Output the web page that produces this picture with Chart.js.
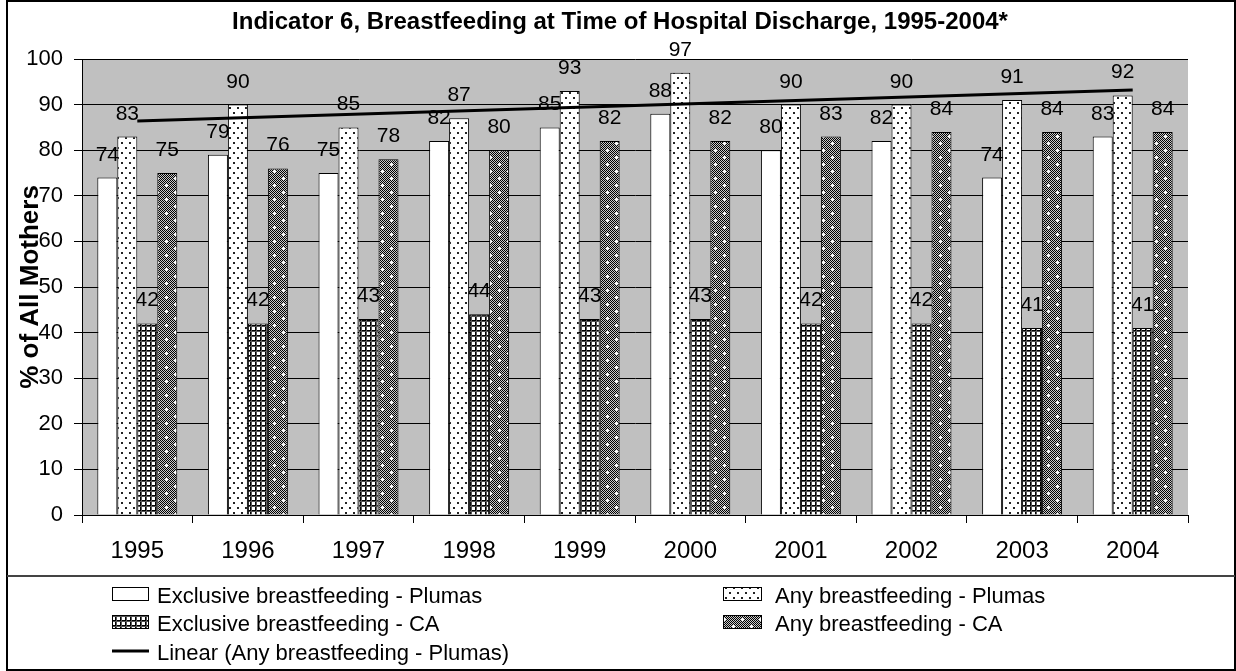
<!DOCTYPE html>
<html>
<head>
<meta charset="utf-8">
<script src="https://cdn.jsdelivr.net/npm/chart.js@4.4.0/dist/chart.umd.min.js"></script>
<style>
  body { margin: 0; background: #fff; }
  canvas { display: block; }
</style>
</head>
<body>
<canvas id="chart" width="1236" height="671"></canvas>
<script>
// values
const years = ['1995', '1996', '1997', '1998', '1999', '2000', '2001', '2002', '2003', '2004'];
const exclusivePlumas = [74, 79, 75, 82, 85, 88, 80, 82, 74, 83];
const anyPlumas = [83, 90, 85, 87, 93, 97, 90, 90, 91, 92];
const exclusiveCA = [42, 42, 43, 44, 43, 43, 42, 42, 41, 41];
const anyCA = [75, 76, 78, 80, 82, 82, 83, 84, 84, 84];
// linear trend of "Any breastfeeding - Plumas", ends
const trendPlumas = [86.4, null, null, null, null, null, null, null, null, 93.2];
const yTicks = { min: 0, max: 100, step: 10 };

const canvas = document.getElementById('chart');
const ctx = canvas.getContext('2d');

function makePattern(w, h, draw) {
    const tile = document.createElement('canvas');
    tile.width = w;
    tile.height = h;
    const g = tile.getContext('2d');
    draw(g);
    return ctx.createPattern(tile, 'repeat');
}

// sparse dots on white
const dotPattern = makePattern(8, 10, g => {
    g.fillStyle = '#fff';
    g.fillRect(0, 0, 8, 10);
    g.fillStyle = '#222';
    g.fillRect(1, 2, 2, 2);
    g.fillRect(5, 7, 2, 2);
});

// square grid
const gridPattern = makePattern(5, 5, g => {
    g.fillStyle = '#fff';
    g.fillRect(0, 0, 5, 5);
    g.fillStyle = '#000';
    g.fillRect(0, 0, 5, 1);
    g.fillRect(0, 0, 1, 5);
    g.fillStyle = '#555';
    g.fillRect(0, 1, 5, 1);
    g.fillRect(1, 0, 1, 5);
});

// dense gray with little white crosses
const darkPattern = makePattern(18, 14, g => {
    for (let y = 0; y < 14; y++) {
        for (let x = 0; x < 18; x++) {
            g.fillStyle = (x + y) % 2 === 0 ? '#000' : '#c8c8c8';
            g.fillRect(x, y, 1, 1);
        }
    }
    g.fillStyle = '#fff';
    [[4, 3], [13, 10]].forEach(([cx, cy]) => {
        g.fillRect(cx - 1, cy, 3, 1);
        g.fillRect(cx, cy - 1, 1, 3);
    });
});

const plotBackground = {
    id: 'plotBackground',
    beforeDraw(chart) {
        const { ctx, chartArea: a } = chart;
        ctx.save();
        ctx.fillStyle = '#fff';
        ctx.fillRect(0, 0, chart.width, chart.height);
        ctx.fillStyle = '#c0c0c0';
        ctx.fillRect(a.left, a.top, a.right - a.left, a.bottom - a.top);
        ctx.restore();
    }
};

// value labels above each bar, drawn right after its dataset so the trend line stays on top
const barLabels = {
    id: 'barLabels',
    afterDatasetDraw(chart, args) {
        const ds = chart.data.datasets[args.index];
        if (ds.type === 'line') return;
        const ctx = chart.ctx;
        ctx.save();
        ctx.font = '21px Arial';
        ctx.fillStyle = '#000';
        ctx.textAlign = 'center';
        ctx.textBaseline = 'alphabetic';
        args.meta.data.forEach((bar, i) => {
            ctx.fillText(String(ds.data[i]), bar.x, bar.y - 17);
        });
        ctx.restore();
    }
};

// title, legend box and outer frame
const frame = {
    id: 'frame',
    afterDraw(chart) {
        const ctx = chart.ctx;
        ctx.save();
        ctx.fillStyle = '#000';
        ctx.font = 'bold 24px Arial';
        ctx.textAlign = 'center';
        ctx.textBaseline = 'alphabetic';
        ctx.fillText('Indicator 6, Breastfeeding at Time of Hospital Discharge, 1995-2004*', 620, 29);

        ctx.strokeStyle = '#000';
        ctx.lineWidth = 2;
        ctx.strokeRect(7, 1, 1228, 669);
        ctx.strokeStyle = '#444';
        ctx.beginPath();
        ctx.moveTo(7, 576);
        ctx.lineTo(1235, 576);
        ctx.stroke();

        const ds = chart.data.datasets;
        const items = [
            { ds: ds[0], x: 112, w: 37, tx: 157, y: 594 },
            { ds: ds[1], x: 723, w: 39, tx: 775, y: 594 },
            { ds: ds[2], x: 112, w: 37, tx: 157, y: 622 },
            { ds: ds[3], x: 723, w: 39, tx: 775, y: 622 },
            { ds: ds[4], x: 112, w: 37, tx: 157, y: 651 }
        ];
        ctx.font = '22px Arial';
        ctx.textAlign = 'left';
        items.forEach(it => {
            if (it.ds.type === 'line') {
                ctx.strokeStyle = '#000';
                ctx.lineWidth = 3;
                ctx.beginPath();
                ctx.moveTo(it.x, it.y);
                ctx.lineTo(it.x + it.w, it.y);
                ctx.stroke();
            } else {
                ctx.fillStyle = it.ds.backgroundColor;
                ctx.fillRect(it.x, it.y - 7, it.w, 14);
                ctx.strokeStyle = '#000';
                ctx.lineWidth = 1;
                ctx.strokeRect(it.x + 0.5, it.y - 6.5, it.w - 1, 13);
            }
            ctx.fillStyle = '#000';
            ctx.fillText(it.ds.label, it.tx, it.y + 9);
        });
        ctx.restore();
    }
};

new Chart(ctx, {
    type: 'bar',
    data: {
        labels: years,
        datasets: [
            { label: 'Exclusive breastfeeding - Plumas', data: exclusivePlumas, backgroundColor: '#fff', borderColor: '#000', borderWidth: 1, order: 1 },
            { label: 'Any breastfeeding - Plumas', data: anyPlumas, backgroundColor: dotPattern, borderColor: '#000', borderWidth: 1, order: 1 },
            { label: 'Exclusive breastfeeding - CA', data: exclusiveCA, backgroundColor: gridPattern, borderColor: '#000', borderWidth: 1, order: 1 },
            { label: 'Any breastfeeding - CA', data: anyCA, backgroundColor: darkPattern, borderColor: '#000', borderWidth: 1, order: 1 },
            {
                type: 'line',
                label: 'Linear (Any breastfeeding - Plumas)',
                data: trendPlumas,
                borderColor: '#000',
                borderWidth: 3,
                pointRadius: 0,
                spanGaps: true,
                fill: false,
                order: 0
            }
        ]
    },
    options: {
        responsive: false,
        animation: false,
        devicePixelRatio: 1,
        categoryPercentage: 0.723,
        barPercentage: 1,
        layout: { padding: { top: 59, right: 48, bottom: 96, left: 0 } },
        plugins: {
            legend: { display: false },
            title: { display: false },
            tooltip: { enabled: false }
        },
        scales: {
            x: {
                offset: true,
                grid: { offset: true, drawOnChartArea: false, color: '#000', tickLength: 8 },
                border: { color: '#000', width: 1 },
                ticks: { color: '#000', font: { family: 'Arial', size: 24 }, padding: 14 },
                afterFit(scale) { scale.height = 60; }
            },
            y: {
                min: yTicks.min,
                max: yTicks.max,
                ticks: { stepSize: yTicks.step, color: '#000', font: { family: 'Arial', size: 22 }, padding: 11 },
                grid: { color: '#000', lineWidth: 1, tickLength: 8 },
                border: { color: '#000', width: 1 },
                title: {
                    display: true,
                    text: '% of All Mothers',
                    color: '#000',
                    font: { family: 'Arial', size: 26, weight: 'bold' },
                    padding: { top: 15, bottom: 0 }
                },
                afterFit(scale) { scale.width = 82; }
            }
        }
    },
    plugins: [plotBackground, barLabels, frame]
});
</script>
</body>
</html>
